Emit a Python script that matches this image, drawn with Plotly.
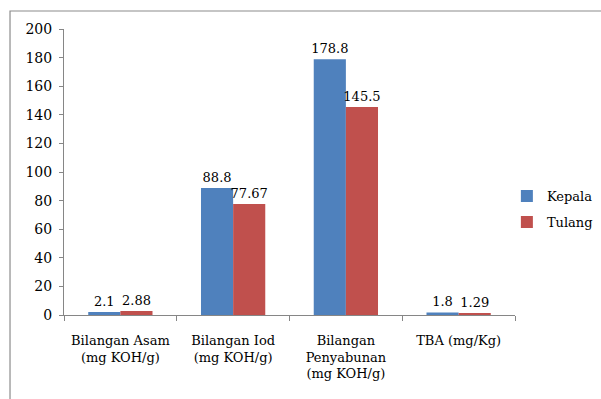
import plotly.graph_objects as go

categories = [
    "Bilangan Asam<br>(mg KOH/g)",
    "Bilangan Iod<br>(mg KOH/g)",
    "Bilangan<br>Penyabunan<br>(mg KOH/g)",
    "TBA (mg/Kg)",
]
kepala = [2.1, 88.8, 178.8, 1.8]
tulang = [2.88, 77.67, 145.5, 1.29]
kepala_labels = ["2.1", "88.8", "178.8", "1.8"]
tulang_labels = ["2.88", "77.67", "145.5", "1.29"]
y_ticks = [0, 20, 40, 60, 80, 100, 120, 140, 160, 180, 200]

FONT = "DejaVu Serif"

fig = go.Figure()
fig.add_trace(go.Bar(
    name="Kepala", x=categories, y=kepala, text=kepala_labels,
    textposition="outside", constraintext="none", cliponaxis=False,
    marker=dict(color="#4F81BD", line=dict(width=0)),
    textfont=dict(family=FONT, size=13, color="black"),
    legendgroup="a",
))
fig.add_trace(go.Bar(
    name="Tulang", x=categories, y=tulang, text=tulang_labels,
    textposition="outside", constraintext="none", cliponaxis=False,
    marker=dict(color="#C0504D", line=dict(width=0)),
    textfont=dict(family=FONT, size=13, color="black"),
    legendgroup="b",
))

fig.update_layout(
    width=601, height=399,
    margin=dict(l=64, r=86, t=29, b=84, autoexpand=False),
    paper_bgcolor="white", plot_bgcolor="white",
    barmode="group", bargap=0.43, bargroupgap=0,
    font=dict(family=FONT, size=13, color="black"),
    showlegend=True,
    legend=dict(
        x=0.982, y=0.468, xanchor="left", yanchor="top",
        font=dict(family=FONT, size=13, color="black"),
        traceorder="grouped", tracegroupgap=6,
        itemwidth=30, bgcolor="rgba(0,0,0,0)",
    ),
    xaxis=dict(
        showline=True, linecolor="#868686", linewidth=1,
        ticks="outside", tickson="boundaries", ticklen=5, tickcolor="#868686",
        tickfont=dict(family=FONT, size=13, color="black"),
        tickangle=0, ticklabelstandoff=13,
        showgrid=False,
    ),
    yaxis=dict(
        range=[0, 200], tickvals=y_ticks,
        showline=True, linecolor="#868686", linewidth=1,
        ticks="outside", ticklen=4, tickcolor="#868686",
        tickfont=dict(family=FONT, size=14, color="black"),
        ticklabelstandoff=4,
        showgrid=False, zeroline=False,
    ),
    shapes=[dict(
        type="rect", xref="paper", yref="paper",
        x0=-0.1197, x1=1.5, y0=-0.6, y1=1.063,
        line=dict(color="#8C8C8C", width=1.2),
        fillcolor="rgba(0,0,0,0)", layer="below",
    )],
)

fig.write_html("out.html")
